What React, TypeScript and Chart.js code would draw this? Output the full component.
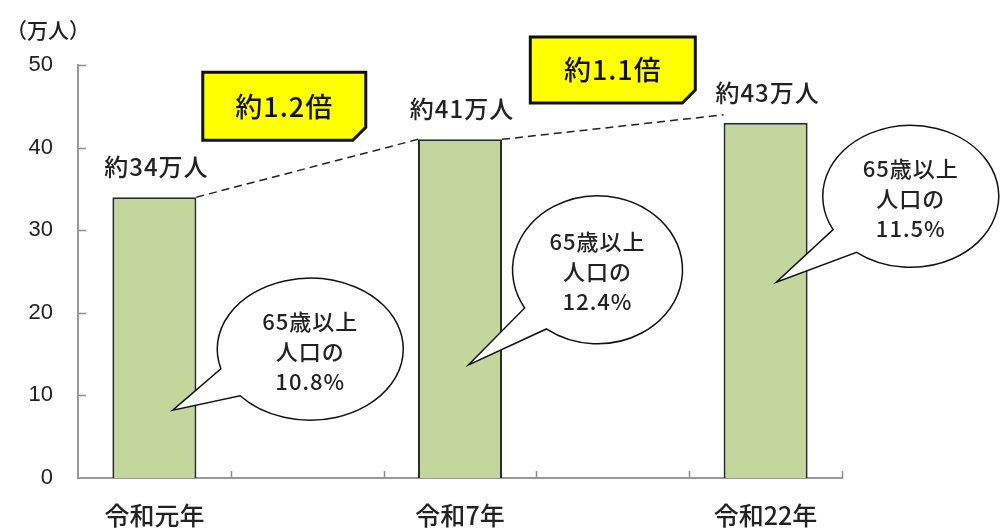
import React, { useEffect, useRef } from 'react';
import { Chart, registerables } from 'chart.js';

Chart.register(...registerables);

// ---- data ----
const categories = ['令和元年', '', '令和7年', '', '令和22年'];
const population = [34, null, 41, null, 43];
const valueLabels = ['約34万人', '', '約41万人', '', '約43万人'];
const yTickValues = [0, 10, 20, 30, 40, 50];
const ratioLabels = ['約1.2倍', '約1.1倍'];
const shareLabels = ['10.8%', '12.4%', '11.5%'];
const shareHeader = ['65歳以上', '人口の'];
const unitLabel = '（万人）';

// ---- annotation layout (scale units: category index / value) ----
const ratioBoxes = [
  { x: 0.85, y: 45.0, w: 163, h: 68 },
  { x: 3.0, y: 49.4, w: 165, h: 66 },
];
const bubbles = [
  { cx: 1.02, cy: 15.6, rx: 93, ry: 71, tipX: 0.12, tipY: 8.2, a1: 139, a2: 164 },
  { cx: 2.9, cy: 25.2, rx: 85, ry: 74, tipX: 2.056, tipY: 13.7, a1: 127, a2: 149 },
  { cx: 4.95, cy: 34.1, rx: 88, ry: 71, tipX: 4.07, tipY: 23.7, a1: 128, a2: 152 },
];

const CJK = '"Noto Sans CJK JP", "Noto Sans", sans-serif';
const TXT = '#222222';

const annotationPlugin = {
  id: 'annotations',
  afterDatasetsDraw(chart: any) {
    const { ctx } = chart;
    const xs = chart.scales.x;
    const ys = chart.scales.y;
    const meta = chart.getDatasetMeta(0);
    const bars = meta.data;

    ctx.save();

    // inward tick marks on y axis
    ctx.strokeStyle = '#8c8c8c';
    ctx.lineWidth = 1.5;
    yTickValues.forEach((v) => {
      const py = Math.round(ys.getPixelForValue(v)) + 0.5;
      if (v === 0) return;
      ctx.beginPath();
      ctx.moveTo(xs.left, py);
      ctx.lineTo(xs.left + 8, py);
      ctx.stroke();
    });
    // inward tick marks on x axis at category boundaries
    for (let i = 1; i <= categories.length; i++) {
      const px = Math.round(xs.getPixelForValue(i - 0.5)) + 0.5;
      ctx.beginPath();
      ctx.moveTo(px, ys.bottom);
      ctx.lineTo(px, ys.bottom - 7);
      ctx.stroke();
    }

    // unit label
    ctx.fillStyle = TXT;
    ctx.font = `500 21px ${CJK}`;
    ctx.textAlign = 'left';
    ctx.textBaseline = 'middle';
    ctx.fillText(unitLabel, 6, 30);

    // value labels above bars
    ctx.font = `500 24px ${CJK}`;
    (ctx as any).letterSpacing = '1px';
    ctx.textAlign = 'center';
    ctx.textBaseline = 'middle';
    population.forEach((v, i) => {
      if (v == null) return;
      const b: any = bars[i];
      ctx.fillText(valueLabels[i], b.x + 2, b.y - 30);
    });
    (ctx as any).letterSpacing = '0px';

    // dashed connector lines
    const filled = population.map((v, i) => (v == null ? -1 : i)).filter((i) => i >= 0);
    ctx.strokeStyle = '#222';
    ctx.lineWidth = 1.5;
    ctx.setLineDash([8, 5]);
    for (let k = 0; k < filled.length - 1; k++) {
      const a: any = bars[filled[k]];
      const b: any = bars[filled[k + 1]];
      ctx.beginPath();
      ctx.moveTo(a.x + a.width / 2, a.y);
      ctx.lineTo(b.x - b.width / 2, b.y - (k === 1 ? 8 : 0));
      ctx.stroke();
    }
    ctx.setLineDash([]);

    // ratio boxes (yellow, folded corner)
    ratioBoxes.forEach((rb, i) => {
      const cx = xs.getPixelForValue(rb.x);
      const cy = ys.getPixelForValue(rb.y);
      const x0 = cx - rb.w / 2;
      const y0 = cy - rb.h / 2;
      const x1 = cx + rb.w / 2;
      const y1 = cy + rb.h / 2;
      const c = 13;
      ctx.beginPath();
      ctx.moveTo(x0, y0);
      ctx.lineTo(x1, y0);
      ctx.lineTo(x1, y1 - c);
      ctx.lineTo(x1 - c, y1);
      ctx.lineTo(x0, y1);
      ctx.closePath();
      ctx.fillStyle = '#FFFF00';
      ctx.fill();
      ctx.strokeStyle = '#111';
      ctx.lineWidth = 3;
      ctx.lineJoin = 'miter';
      ctx.stroke();
      // folded flap
      ctx.beginPath();
      ctx.moveTo(x1, y1 - c);
      ctx.quadraticCurveTo(x1 - c * 0.55, y1 - c * 0.75, x1 - c * 0.75, y1 - c * 0.2);
      ctx.lineTo(x1 - c, y1);
      ctx.closePath();
      ctx.fillStyle = '#111';
      ctx.fill();
      // text
      ctx.fillStyle = '#111';
      ctx.font = `500 27px ${CJK}`;
      (ctx as any).letterSpacing = '1px';
      ctx.textAlign = 'center';
      ctx.textBaseline = 'middle';
      ctx.fillText(ratioLabels[i], cx, cy);
      (ctx as any).letterSpacing = '0px';
    });

    // speech bubbles
    bubbles.forEach((bb, i) => {
      const cx = xs.getPixelForValue(bb.cx);
      const cy = ys.getPixelForValue(bb.cy);
      const tx = xs.getPixelForValue(bb.tipX);
      const ty = ys.getPixelForValue(bb.tipY);
      const a1 = (bb.a1 * Math.PI) / 180;
      const a2 = (bb.a2 * Math.PI) / 180;
      ctx.beginPath();
      ctx.ellipse(cx, cy, bb.rx, bb.ry, 0, a2, a1 + Math.PI * 2, false);
      ctx.lineTo(tx, ty);
      ctx.closePath();
      ctx.fillStyle = '#ffffff';
      ctx.fill();
      ctx.strokeStyle = '#111';
      ctx.lineWidth = 1.5;
      ctx.stroke();

      ctx.fillStyle = TXT;
      ctx.font = `500 22px ${CJK}`;
      (ctx as any).letterSpacing = '1px';
      ctx.textAlign = 'center';
      ctx.textBaseline = 'middle';
      const lines = [...shareHeader, shareLabels[i]];
      lines.forEach((t, j) => {
        ctx.fillText(t, cx, cy + 2 + (j - 1) * 30);
      });
      (ctx as any).letterSpacing = '0px';
    });

    ctx.restore();
  },
};

export default function App() {
  const canvasRef = useRef<HTMLCanvasElement | null>(null);

  useEffect(() => {
    document.body.style.margin = '0';
    const canvas = canvasRef.current;
    if (!canvas) return;
    const chart = new Chart(canvas, {
      type: 'bar',
      data: {
        labels: categories,
        datasets: [
          {
            data: population as any,
            backgroundColor: '#C3D69B',
            borderColor: '#2a2a2a',
            borderWidth: { top: 2, left: 2, right: 2, bottom: 0 },
            borderSkipped: 'bottom',
            barPercentage: 0.55,
            categoryPercentage: 1.0,
          },
        ],
      },
      options: {
        animation: false,
        responsive: true,
        maintainAspectRatio: false,
        layout: { padding: { top: 65, right: 162, left: 0, bottom: 0 } },
        plugins: {
          legend: { display: false },
          tooltip: { enabled: false },
          title: { display: false },
        },
        scales: {
          x: {
            offset: true,
            grid: { display: false, drawTicks: false },
            border: { display: true, color: '#999999', width: 2 },
            ticks: {
              padding: 22,
              color: TXT,
              font: { family: CJK, size: 25, weight: '500' as any },
              autoSkip: false,
              maxRotation: 0,
            },
            afterFit: (s: any) => {
              s.height = 53;
            },
          },
          y: {
            min: 0,
            max: 50,
            grid: { display: false, drawTicks: false },
            border: { display: true, color: '#999999', width: 2 },
            ticks: {
              stepSize: 10,
              padding: 25,
              color: TXT,
              font: { family: '"Liberation Sans", Arial, sans-serif', size: 22 },
            },
            afterFit: (s: any) => {
              s.width = 78;
            },
          },
        },
      },
      plugins: [annotationPlugin],
    });
    return () => chart.destroy();
  }, []);

  return (
    <div style={{ position: 'relative', width: 1004, height: 531 }}>
      <canvas ref={canvasRef} />
    </div>
  );
}
